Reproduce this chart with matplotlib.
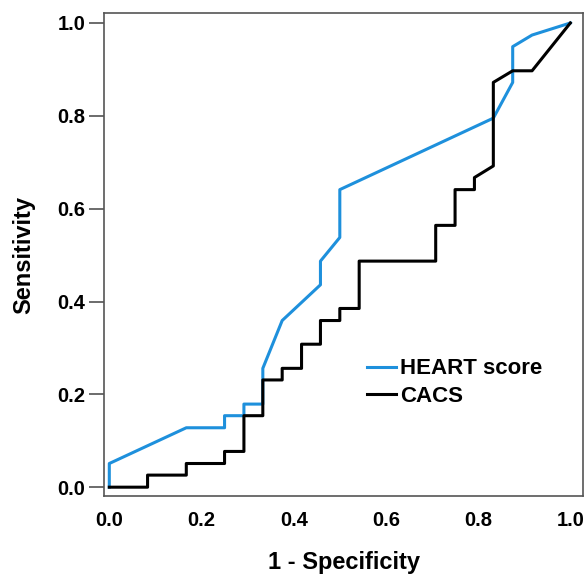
import matplotlib
matplotlib.use('Agg')
import matplotlib.pyplot as plt

# ROC curves
heart_fpr = [0, 0, 0.167, 0.25, 0.25, 0.292, 0.292, 0.333, 0.333, 0.375,
             0.458, 0.458, 0.5, 0.5, 0.833, 0.875, 0.875, 0.917, 1.0]
heart_tpr = [0, 0.051, 0.128, 0.128, 0.154, 0.154, 0.179, 0.179, 0.256, 0.359,
             0.436, 0.487, 0.538, 0.641, 0.795, 0.872, 0.949, 0.974, 1.0]

cacs_fpr = [0, 0.083, 0.083, 0.167, 0.167, 0.25, 0.25, 0.292, 0.292, 0.333,
            0.333, 0.375, 0.375, 0.417, 0.417, 0.458, 0.458, 0.5, 0.5, 0.542,
            0.542, 0.708, 0.708, 0.75, 0.75, 0.792, 0.792, 0.833, 0.833, 0.875,
            0.917, 1.0]
cacs_tpr = [0, 0, 0.026, 0.026, 0.051, 0.051, 0.077, 0.077, 0.154, 0.154,
            0.231, 0.231, 0.256, 0.256, 0.308, 0.308, 0.359, 0.359, 0.385, 0.385,
            0.487, 0.487, 0.564, 0.564, 0.641, 0.641, 0.667, 0.692, 0.872, 0.897,
            0.897, 1.0]

ticks = [0.0, 0.2, 0.4, 0.6, 0.8, 1.0]
tick_labels = ['0.0', '0.2', '0.4', '0.6', '0.8', '1.0']

plt.rcParams['font.family'] = ['Liberation Sans', 'DejaVu Sans']
plt.rcParams['font.weight'] = 'bold'

fig = plt.figure(figsize=(5.87, 5.75), dpi=100)
ax = fig.add_axes([104 / 587, 79 / 575, 479 / 587, 483 / 575])

ax.plot(heart_fpr, heart_tpr, color='#1E90DC', lw=2.2, label='HEART score')
ax.plot(cacs_fpr, cacs_tpr, color='black', lw=2.2, label='CACS')

ax.set_xlim(-0.0115, 1.0275)
ax.set_ylim(-0.019, 1.0215)
ax.set_xticks(ticks)
ax.set_xticklabels(tick_labels, fontsize=14.5, fontweight='bold')
ax.set_yticks(ticks)
ax.set_yticklabels(tick_labels, fontsize=14.5, fontweight='bold')
ax.tick_params(axis='x', length=0, pad=11)
ax.tick_params(axis='y', direction='out', length=10.5, width=1.1, color='#444444', pad=3)

for sp in ax.spines.values():
    sp.set_color('#555555')
    sp.set_linewidth(1.2)

ax.set_xlabel('1 - Specificity', fontsize=17, fontweight='bold', labelpad=15)
ax.set_ylabel('Sensitivity', fontsize=17, fontweight='bold', labelpad=16)

ax.legend(loc='upper left', bbox_to_anchor=(0.549, 0.285), frameon=False,
          prop={'size': 16, 'weight': 'bold'}, borderpad=0, borderaxespad=0,
          handlelength=1.3, handletextpad=0.2, labelspacing=0.3)

fig.savefig('out.png', dpi=100)
